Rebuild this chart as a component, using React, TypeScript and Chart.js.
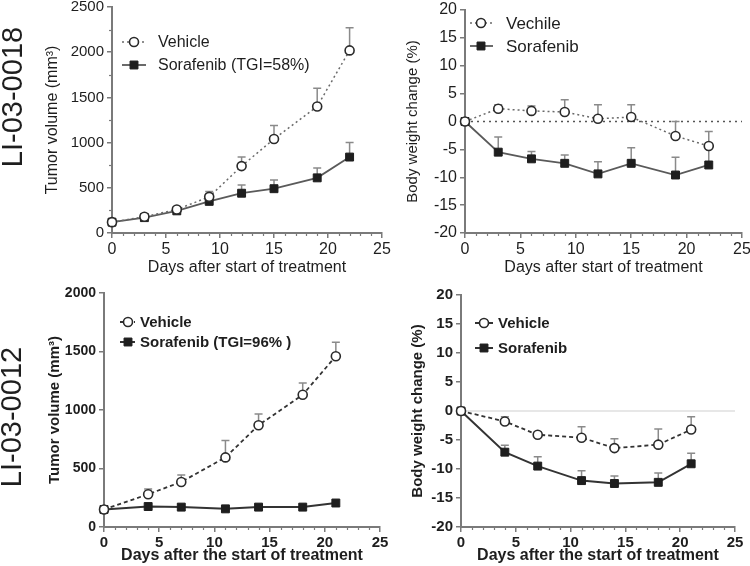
import React, { useEffect, useRef } from "react";
import { Chart, registerables } from "chart.js";
Chart.register(...registerables);

const W = 750;
const H = 566;

// ---------- Data: LI-03-0018 ----------
const daysA = [0, 3, 6, 9, 12, 15, 19, 22];
const tumorVehicleA = [120, 180, 260, 400, 740, 1040, 1400, 2020];
const tumorVehicleErrA = [140, 200, 290, 460, 840, 1190, 1600, 2270];
const tumorSorafA = [120, 170, 245, 350, 440, 490, 610, 840];
const tumorSorafErrA = [130, 190, 275, 400, 530, 585, 720, 1000];
const bwVehicleA = [0, 2.3, 1.9, 1.7, 0.5, 0.8, -2.6, -4.4];
const bwVehicleErrA = [0, 3.0, 2.8, 3.9, 3.0, 3.0, 0.0, -1.8];
const bwSorafA = [0, -5.5, -6.7, -7.5, -9.4, -7.5, -9.6, -7.8];
const bwSorafErrA = [0, -2.8, -5.4, -6.0, -7.2, -4.7, -6.4, -4.5];

// ---------- Data: LI-03-0012 ----------
const daysB = [0, 4, 7, 11, 14, 18, 21];
const tumorVehicleB = [150, 280, 385, 595, 870, 1130, 1460];
const tumorVehicleErrB = [150, 325, 445, 740, 965, 1230, 1580];
const tumorSorafB = [150, 175, 170, 155, 170, 170, 205];
const bwVehicleB = [0, -1.8, -4.1, -4.6, -6.4, -5.8, -3.2];
const bwVehicleErrB = [0, -1.0, -3.6, -2.7, -4.8, -3.1, -1.0];
const bwSorafB = [0, -7.1, -9.5, -12.0, -12.5, -12.3, -9.1];
const bwSorafErrB = [0, -5.9, -7.9, -10.3, -11.2, -10.7, -7.3];

// ---------- Labels ----------
const rowLabels = ["LI-03-0018", "LI-03-0012"];
const tumorTitle = "Tumor volume (mm\u00b3)";
const bwTitle = "Body weight change (%)";
const xTitleA = "Days after start of treatment";
const xTitleB = "Days after the start of treatment";
const legendA1 = ["Vehicle", "Sorafenib (TGI=58%)"];
const legendA2 = ["Vechile", "Sorafenib"];
const legendB1 = ["Vehicle", "Sorafenib (TGI=96% )"];
const legendB2 = ["Vehicle", "Sorafenib"];

const FONT = "'Liberation Sans', Arial, Helvetica, sans-serif";
const TXT = "#1e1e1e";
const AXIS = "#7a7a7a";

const pts = (xs: number[], ys: number[]) => xs.map((x, i) => ({ x, y: ys[i] }));

function drawMarker(ctx: CanvasRenderingContext2D, style: string, x: number, y: number, r: number, fill: string, stroke: string, bw: number) {
  ctx.save();
  ctx.beginPath();
  if (style === "rect") {
    const s = Math.SQRT1_2 * r;
    ctx.rect(x - s, y - s, 2 * s, 2 * s);
  } else {
    ctx.arc(x, y, r, 0, Math.PI * 2);
  }
  ctx.fillStyle = fill;
  ctx.fill();
  ctx.lineWidth = bw;
  ctx.strokeStyle = stroke;
  ctx.stroke();
  ctx.restore();
}

const decor = {
  id: "decor",
  beforeDatasetsDraw(chart: any, _a: any, o: any) {
    const ctx = chart.ctx as CanvasRenderingContext2D;
    const xs = chart.scales.x;
    const ys = chart.scales.y;
    if (o.zeroLine) {
      ctx.save();
      ctx.strokeStyle = o.zeroLine.color;
      ctx.lineWidth = o.zeroLine.width;
      ctx.setLineDash(o.zeroLine.dash || []);
      const y = ys.getPixelForValue(0);
      ctx.beginPath();
      ctx.moveTo(xs.getPixelForValue(0), y);
      ctx.lineTo(xs.getPixelForValue(25), y);
      ctx.stroke();
      ctx.restore();
    }
    chart.data.datasets.forEach((ds: any) => {
      const err = ds.errUp;
      if (!err) return;
      ctx.save();
      ctx.strokeStyle = o.errColor || "#888";
      ctx.lineWidth = 1.5;
      ds.data.forEach((p: any, j: number) => {
        const e = err[j];
        if (e == null || e <= p.y + 1e-9) return;
        const x = xs.getPixelForValue(p.x);
        const y0 = ys.getPixelForValue(p.y);
        const y1 = ys.getPixelForValue(e);
        ctx.beginPath();
        ctx.moveTo(x, y0);
        ctx.lineTo(x, y1);
        ctx.moveTo(x - 4, y1);
        ctx.lineTo(x + 4, y1);
        ctx.stroke();
      });
      ctx.restore();
    });
  },
  afterDraw(chart: any, _a: any, o: any) {
    const ctx = chart.ctx as CanvasRenderingContext2D;
    const xs = chart.scales.x;
    const ys = chart.scales.y;
    const ca = chart.chartArea;
    // minor ticks
    ctx.save();
    ctx.strokeStyle = AXIS;
    ctx.lineWidth = 1.2;
    for (let d = 1; d < 25; d++) {
      if (d % 5 === 0) continue;
      const x = Math.round(xs.getPixelForValue(d)) + 0.5;
      ctx.beginPath();
      ctx.moveTo(x, ca.bottom);
      ctx.lineTo(x, ca.bottom + 3);
      ctx.stroke();
    }
    if (o.minorY) {
      for (let v = ys.min + o.minorY; v < ys.max; v += o.minorY * 2) {
        const y = Math.round(ys.getPixelForValue(v)) + 0.5;
        ctx.beginPath();
        ctx.moveTo(ca.left, y);
        ctx.lineTo(ca.left - 3, y);
        ctx.stroke();
      }
    }
    ctx.restore();
    // legend
    if (o.legend) {
      const L = o.legend;
      chart.data.datasets.forEach((ds: any, i: number) => {
        const y = L.ys[i];
        ctx.save();
        ctx.strokeStyle = ds.borderColor;
        ctx.lineWidth = ds.borderWidth;
        ctx.setLineDash(ds.borderDash || []);
        ctx.beginPath();
        ctx.moveTo(L.x1, y);
        ctx.lineTo(L.x2, y);
        ctx.stroke();
        ctx.restore();
        drawMarker(ctx, ds.pointStyle, L.xm, y, ds.pointRadius, ds.pointBackgroundColor, ds.pointBorderColor, ds.pointBorderWidth);
        ctx.save();
        ctx.fillStyle = TXT;
        ctx.font = L.font;
        ctx.textAlign = "left";
        ctx.textBaseline = "middle";
        ctx.fillText(ds.label, L.tx, y + 1);
        ctx.restore();
      });
    }
    // row label
    if (o.rowLabel) {
      ctx.save();
      ctx.translate(o.rowLabel.x, o.rowLabel.y);
      ctx.rotate(-Math.PI / 2);
      ctx.fillStyle = TXT;
      ctx.font = `29px ${FONT}`;
      ctx.textAlign = "center";
      ctx.textBaseline = "middle";
      ctx.fillText(o.rowLabel.text, 0, 0);
      ctx.restore();
    }
  },
};

function makeConfig(p: any) {
  const yTS = p.yTitleFont.size;
  const xTS = p.xTitleFont.size;
  const pad = {
    left: p.yTitleX - yTS * 0.6,
    top: p.plot.t,
    right: W - p.plot.r,
    bottom: H - (p.xTitleY + xTS * 0.6),
  };
  const yW = p.plot.l - pad.left;
  const xH = p.xTitleY + xTS * 0.6 - p.plot.b;
  const zeroPad = (s: any) => {
    s.paddingTop = 0;
    s.paddingBottom = 0;
    s.paddingLeft = 0;
    s.paddingRight = 0;
  };
  return {
    type: "line",
    data: { datasets: p.datasets },
    options: {
      responsive: false,
      animation: false,
      events: [],
      layout: { padding: pad },
      plugins: {
        legend: { display: false },
        tooltip: { enabled: false },
        decor: p.decor,
      },
      scales: {
        x: {
          type: "linear",
          min: 0,
          max: 25,
          afterFit: (s: any) => {
            s.height = xH;
            zeroPad(s);
          },
          ticks: { stepSize: 5, autoSkip: false, maxRotation: 0, padding: 2, color: TXT, font: p.xTickFont, callback: (v: any) => String(v) },
          grid: { display: true, drawOnChartArea: false, drawTicks: true, tickLength: 5, color: AXIS, lineWidth: 1.5 },
          border: { display: true, color: AXIS, width: 2 },
          title: { display: true, text: p.xTitle, color: TXT, font: p.xTitleFont, padding: 0 },
        },
        y: {
          type: "linear",
          min: p.yMin,
          max: p.yMax,
          afterFit: (s: any) => {
            s.width = yW;
            zeroPad(s);
          },
          ticks: { stepSize: p.yStep, autoSkip: false, padding: 3, color: TXT, font: p.yTickFont, callback: (v: any) => String(v) },
          grid: { display: true, drawOnChartArea: false, drawTicks: true, tickLength: 5, color: AXIS, lineWidth: 1.5 },
          border: { display: true, color: AXIS, width: 2 },
          title: { display: true, text: p.yTitle, color: TXT, font: p.yTitleFont, padding: 0 },
        },
      },
    },
    plugins: [decor],
  };
}

function vehicleDs(label: string, data: any[], err: number[], dash: number[], color: string, width: number) {
  return {
    label,
    data,
    errUp: err,
    borderColor: color,
    borderWidth: width,
    borderDash: dash,
    pointStyle: "circle",
    pointRadius: 4.5,
    pointBackgroundColor: "#ffffff",
    pointBorderColor: "#2a2a2a",
    pointBorderWidth: 1.6,
    clip: false,
    tension: 0,
  };
}
function sorafDs(label: string, data: any[], err: number[] | null, color: string, width: number) {
  return {
    label,
    data,
    errUp: err,
    borderColor: color,
    borderWidth: width,
    borderDash: [],
    pointStyle: "rect",
    pointRadius: 5.6,
    pointBackgroundColor: "#1e1e1e",
    pointBorderColor: "#1e1e1e",
    pointBorderWidth: 1,
    clip: false,
    tension: 0,
  };
}

export default function App() {
  const r1 = useRef<HTMLCanvasElement>(null);
  const r2 = useRef<HTMLCanvasElement>(null);
  const r3 = useRef<HTMLCanvasElement>(null);
  const r4 = useRef<HTMLCanvasElement>(null);

  useEffect(() => {
    Chart.defaults.font.family = FONT;
    const reg = (s: number) => ({ family: FONT, size: s });
    const bold = (s: number) => ({ family: FONT, size: s, weight: "bold" });

    const cfgs = [
      makeConfig({
        plot: { l: 112, r: 382, t: 7, b: 233 },
        yTitleX: 53,
        xTitleY: 268,
        yMin: 0,
        yMax: 2500,
        yStep: 500,
        yTitle: tumorTitle,
        xTitle: xTitleA,
        yTitleFont: reg(16),
        xTitleFont: reg(16),
        yTickFont: reg(15),
        xTickFont: reg(16),
        datasets: [
          vehicleDs(legendA1[0], pts(daysA, tumorVehicleA), tumorVehicleErrA, [2, 3], "#6a6a6a", 1.5),
          sorafDs(legendA1[1], pts(daysA, tumorSorafA), tumorSorafErrA, "#5a5a5a", 1.8),
        ],
        decor: {
          errColor: "#8a8a8a",
          minorY: 250,
          legend: { ys: [42, 65], x1: 122, x2: 146, xm: 134, tx: 158, font: `16px ${FONT}` },
          rowLabel: { text: rowLabels[0], x: 14, y: 97 },
        },
      }),
      makeConfig({
        plot: { l: 465, r: 742, t: 10, b: 233 },
        yTitleX: 413,
        xTitleY: 268,
        yMin: -20,
        yMax: 20,
        yStep: 5,
        yTitle: bwTitle,
        xTitle: xTitleA,
        yTitleFont: reg(15),
        xTitleFont: reg(16),
        yTickFont: reg(16),
        xTickFont: reg(16),
        datasets: [
          vehicleDs(legendA2[0], pts(daysA, bwVehicleA), bwVehicleErrA, [2, 3], "#6a6a6a", 1.5),
          sorafDs(legendA2[1], pts(daysA, bwSorafA), bwSorafErrA, "#5a5a5a", 1.8),
        ],
        decor: {
          errColor: "#8a8a8a",
          zeroLine: { color: "#555", width: 1.5, dash: [2, 4] },
          legend: { ys: [23, 46], x1: 470, x2: 493, xm: 481, tx: 506, font: `17px ${FONT}` },
        },
      }),
      makeConfig({
        plot: { l: 104, r: 380, t: 293, b: 527 },
        yTitleX: 55,
        xTitleY: 556,
        yMin: 0,
        yMax: 2000,
        yStep: 500,
        yTitle: tumorTitle,
        xTitle: xTitleB,
        yTitleFont: bold(15),
        xTitleFont: bold(16),
        yTickFont: bold(14),
        xTickFont: bold(15),
        datasets: [
          vehicleDs(legendB1[0], pts(daysB, tumorVehicleB), tumorVehicleErrB, [4, 3], "#333333", 1.8),
          sorafDs(legendB1[1], pts(daysB, tumorSorafB), null, "#333333", 2),
        ],
        decor: {
          errColor: "#8a8a8a",
          legend: { ys: [322, 342], x1: 120, x2: 135, xm: 128, tx: 140, font: `bold 15px ${FONT}` },
          rowLabel: { text: rowLabels[1], x: 13, y: 417 },
        },
      }),
      makeConfig({
        plot: { l: 461, r: 735, t: 295, b: 527 },
        yTitleX: 418,
        xTitleY: 556,
        yMin: -20,
        yMax: 20,
        yStep: 5,
        yTitle: bwTitle,
        xTitle: xTitleB,
        yTitleFont: bold(15),
        xTitleFont: bold(16),
        yTickFont: bold(15),
        xTickFont: bold(15),
        datasets: [
          vehicleDs(legendB2[0], pts(daysB, bwVehicleB), bwVehicleErrB, [4, 3], "#333333", 1.8),
          sorafDs(legendB2[1], pts(daysB, bwSorafB), bwSorafErrB, "#333333", 2),
        ],
        decor: {
          errColor: "#8a8a8a",
          zeroLine: { color: "#cfcfcf", width: 1.2, dash: [] },
          legend: { ys: [323, 348], x1: 475, x2: 493, xm: 484, tx: 498, font: `bold 15px ${FONT}` },
        },
      }),
    ];

    const refs = [r1, r2, r3, r4];
    const charts = refs.map((r, i) => new Chart(r.current as HTMLCanvasElement, cfgs[i] as any));
    return () => charts.forEach((c) => c.destroy());
  }, []);

  const cs: React.CSSProperties = { position: "absolute", left: 0, top: 0, width: W, height: H };
  return (
    <div style={{ position: "absolute", left: 0, top: 0, width: W, height: H, background: "#fff", overflow: "hidden" }}>
      <canvas ref={r1} width={W} height={H} style={cs} />
      <canvas ref={r2} width={W} height={H} style={cs} />
      <canvas ref={r3} width={W} height={H} style={cs} />
      <canvas ref={r4} width={W} height={H} style={cs} />
    </div>
  );
}
